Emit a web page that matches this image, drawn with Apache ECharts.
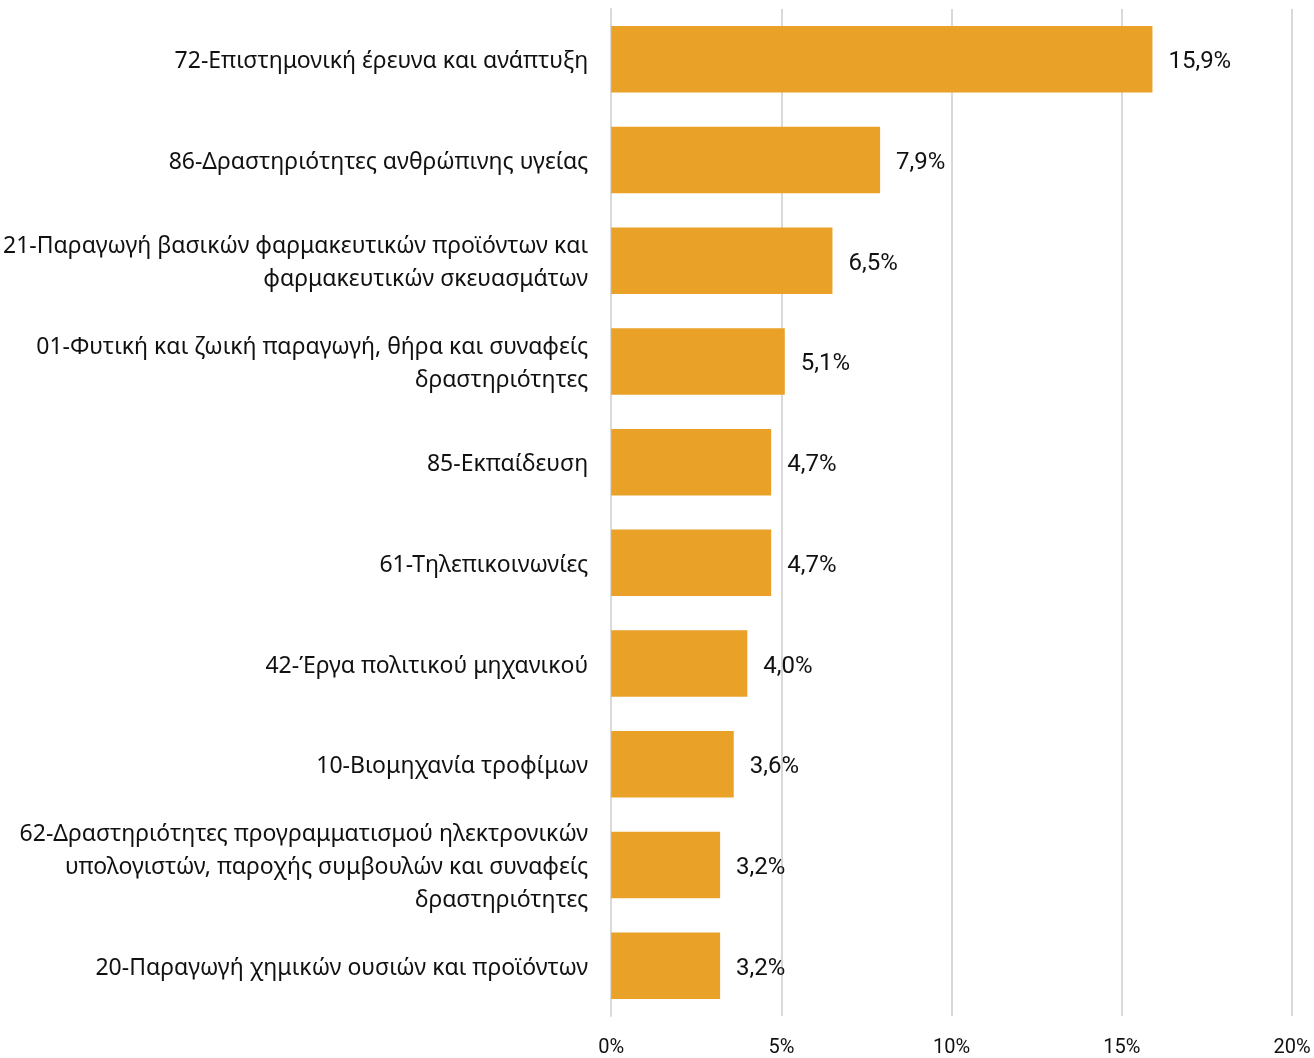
<!DOCTYPE html>
<html>
<head>
<meta charset="utf-8">
<script src="https://cdn.jsdelivr.net/npm/echarts@6/dist/echarts.min.js"></script>
<style>html,body{margin:0;padding:0;background:#fff;}#c{width:1314px;height:1058px;}</style>
</head>
<body>
<div id="c"></div>
<script>
const categories = [
  "72-Επιστημονική έρευνα και ανάπτυξη",
  "86-Δραστηριότητες ανθρώπινης υγείας",
  "21-Παραγωγή βασικών φαρμακευτικών προϊόντων και\nφαρμακευτικών σκευασμάτων",
  "01-Φυτική και ζωική παραγωγή, θήρα και συναφείς\nδραστηριότητες",
  "85-Εκπαίδευση",
  "61-Τηλεπικοινωνίες",
  "42-Έργα πολιτικού μηχανικού",
  "10-Βιομηχανία τροφίμων",
  "62-Δραστηριότητες προγραμματισμού ηλεκτρονικών\nυπολογιστών, παροχής συμβουλών και συναφείς\nδραστηριότητες",
  "20-Παραγωγή χημικών ουσιών και προϊόντων"
];
const values = [15.9, 7.9, 6.5, 5.1, 4.7, 4.7, 4.0, 3.6, 3.2, 3.2];
const xTicks = [0, 5, 10, 15, 20];

const chart = echarts.init(document.getElementById('c'), null, {renderer: 'canvas'});
chart.setOption({
  animation: false,
  grid: {left: 610, right: 22, top: 9, bottom: 38, containLabel: false},
  xAxis: {
    type: 'value', min: xTicks[0], max: xTicks[xTicks.length - 1], interval: 5,
    axisLine: {show: false}, axisTick: {show: false},
    splitLine: {show: true, lineStyle: {color: '#d9d9d9', width: 2}},
    axisLabel: {
      formatter: v => v + '%', color: '#111', fontSize: 20,
      fontFamily: 'Roboto, sans-serif', margin: 22
    }
  },
  yAxis: {
    type: 'category', data: categories, inverse: true,
    axisLine: {show: true, lineStyle: {color: '#d9d9d9', width: 2}},
    axisTick: {show: false},
    axisLabel: {
      color: '#111', fontSize: 21, lineHeight: 32, align: 'right', margin: 23,
      fontFamily: '"Noto Sans", sans-serif',
      formatter: v => v.split('\n').map(s => '{a|' + s + '}').join('\n'),
      rich: {a: {fontSize: 23, lineHeight: 33, padding: [5, 0, 0, 0], color: '#111', fontFamily: '"Noto Sans", sans-serif'}}
    }
  },
  series: [{
    type: 'bar', data: values, barCategoryGap: '34%',
    itemStyle: {color: '#E9A227'},
    label: {
      show: true, position: 'right', distance: 16, color: '#111', fontSize: 24,
      fontFamily: 'Roboto, sans-serif', offset: [0, 3],
      formatter: p => p.value.toFixed(1).replace('.', ',') + '%'
    }
  }]
});
</script>
</body>
</html>
